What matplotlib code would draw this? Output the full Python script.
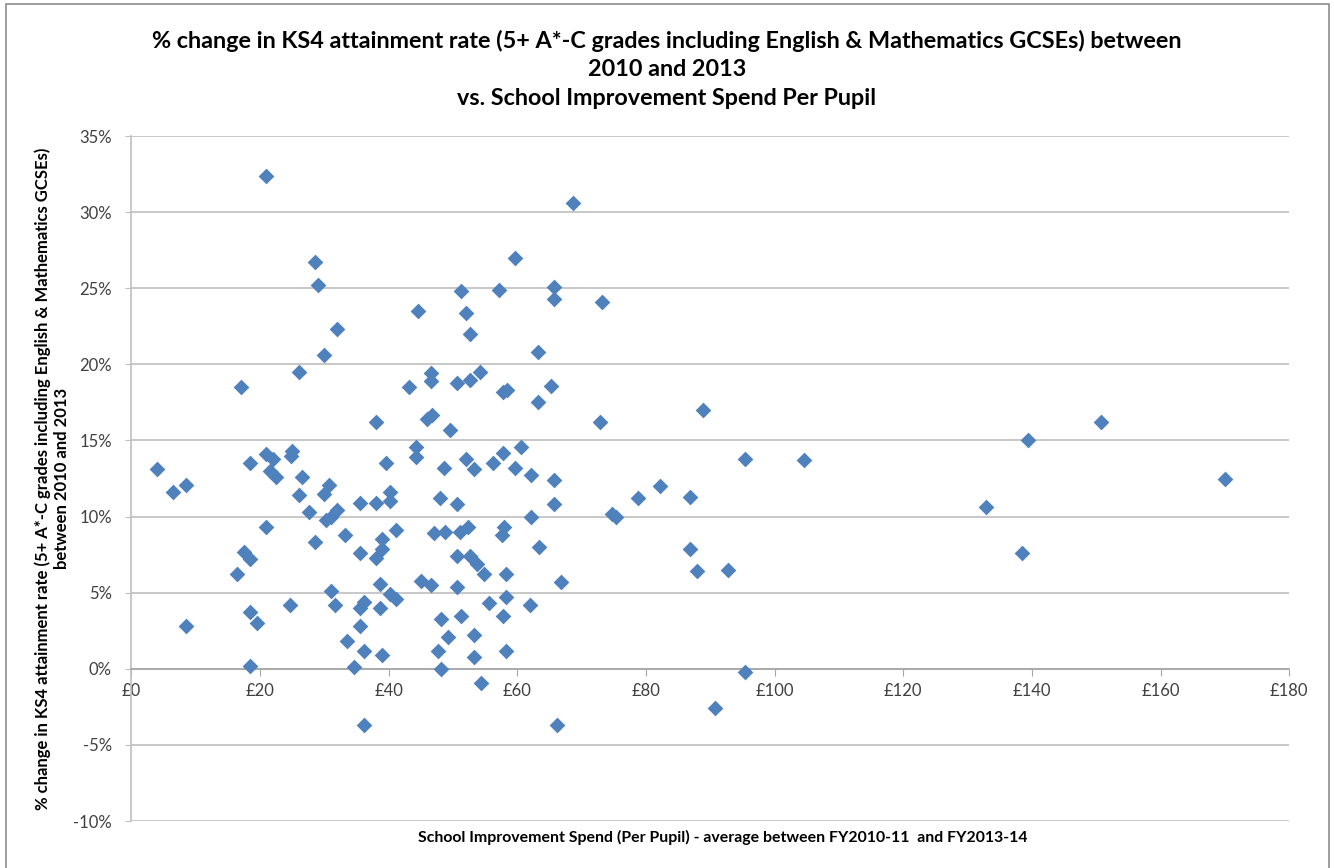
import numpy as np
import matplotlib
matplotlib.use("Agg")
import matplotlib.pyplot as plt
from matplotlib.patches import Rectangle
from matplotlib.ticker import FuncFormatter, MultipleLocator

# spend per pupil (GBP) and % change in attainment
spend = [21.0, 28.5, 29.1, 32.0, 30.0, 26.1, 17.0,
         3.95, 6.5, 8.5, 8.5, 18.5, 21.0, 22.1, 21.5, 22.5, 25.0, 24.9, 26.5, 26.1,
         27.7, 29.9, 30.8, 30.2, 31.0, 32.0, 33.2, 21.0, 28.5, 17.5, 18.4, 16.5,
         18.5, 19.5, 24.7, 18.5, 31.1, 31.7, 33.6, 34.6, 36.1, 35.6, 35.6, 36.1,
         35.6, 36.1,
         68.7, 59.7, 51.3, 57.1, 65.7, 65.7, 44.6, 52.1, 52.7, 63.2, 46.6, 46.6,
         43.1, 50.6, 52.7, 54.2, 57.8, 58.4, 65.2, 63.2, 38.1, 46.0, 46.7, 49.6,
         44.2, 44.2, 39.6, 48.6, 52.1, 53.3, 56.2, 57.8, 60.6, 59.7, 62.2, 65.7,
         65.7, 62.2, 40.2, 40.2, 38.1, 35.6, 48.0, 50.6, 41.1, 47.1, 48.8, 51.1,
         52.3, 57.9, 57.6, 39.0, 39.0, 38.1, 50.6, 52.7, 53.8, 54.8, 58.3, 63.4,
         66.8, 45.0, 46.6, 50.6, 38.6, 40.2, 41.1, 38.6, 39.0, 55.6, 58.3, 57.8,
         61.9, 48.1, 51.3, 49.2, 53.3, 47.7, 53.3, 58.3, 48.1, 54.3, 66.2,
         73.2, 72.9, 88.9, 95.4, 82.2, 78.8, 86.9, 74.8, 75.3, 86.8, 87.9, 92.8,
         95.4, 90.7,
         104.6, 132.9, 138.4, 139.4, 150.8, 170.0]
change = [32.4, 26.7, 25.2, 22.3, 20.6, 19.5, 18.5,
          13.1, 11.6, 12.1, 2.8, 13.5, 14.1, 13.8, 13.0, 12.6, 14.3, 14.0, 12.6, 11.4,
          10.3, 11.5, 12.1, 9.8, 10.0, 10.4, 8.8, 9.3, 8.3, 7.7, 7.2, 6.2,
          3.7, 3.0, 4.2, 0.2, 5.1, 4.2, 1.8, 0.1, 1.2, 4.0, 2.8, 4.4,
          7.6, -3.7,
          30.6, 27.0, 24.8, 24.9, 25.1, 24.3, 23.5, 23.4, 22.0, 20.8, 19.4, 18.9,
          18.5, 18.8, 19.0, 19.5, 18.2, 18.3, 18.6, 17.5, 16.2, 16.4, 16.7, 15.7,
          14.6, 13.9, 13.5, 13.2, 13.8, 13.1, 13.5, 14.2, 14.6, 13.2, 12.7, 12.4,
          10.8, 10.0, 11.6, 11.0, 10.9, 10.9, 11.2, 10.8, 9.1, 8.9, 9.0, 9.0,
          9.3, 9.3, 8.8, 8.5, 7.9, 7.3, 7.4, 7.4, 6.9, 6.2, 6.2, 8.0,
          5.7, 5.8, 5.5, 5.4, 5.6, 4.9, 4.6, 4.0, 0.9, 4.3, 4.7, 3.5,
          4.2, 3.3, 3.5, 2.1, 2.2, 1.2, 0.8, 1.2, 0.0, -0.95, -3.7,
          24.1, 16.2, 17.0, 13.8, 12.0, 11.2, 11.3, 10.2, 10.0, 7.9, 6.4, 6.5,
          -0.2, -2.6,
          13.7, 10.6, 7.6, 15.0, 16.2, 12.5]

title = ("% change in KS4 attainment rate (5+ A*-C grades including English & Mathematics GCSEs) between\n"
         "2010 and 2013\nvs. School Improvement Spend Per Pupil")
ylab = ("% change in KS4 attainment rate (5+ A*-C grades including English & Mathematics GCSEs)\n"
        "between 2010 and 2013")
xlab = "School Improvement Spend (Per Pupil) - average between FY2010-11  and FY2013-14"

plt.rcParams['font.family'] = ['Lato', 'DejaVu Sans']

fig = plt.figure(figsize=(13.34, 8.68), dpi=100)
ax = fig.add_axes([0.0984, 0.0541, 0.8681, 0.7892])

ax.scatter(spend, change, marker='D', s=64, color='#4F81BD', zorder=3, linewidths=0)

ax.set_xlim(0, 180)
ax.set_ylim(-10, 35)
ax.xaxis.set_major_locator(MultipleLocator(20))
ax.yaxis.set_major_locator(MultipleLocator(5))
ax.xaxis.set_major_formatter(FuncFormatter(lambda v, p: "£%d" % v))
ax.yaxis.set_major_formatter(FuncFormatter(lambda v, p: "%d%%" % v))

ax.grid(axis='y', color='#BFBFBF', linewidth=1.2, zorder=0)
for s in ['top', 'right']:
    ax.spines[s].set_visible(False)
ax.spines['bottom'].set_position(('data', 0))
ax.spines['bottom'].set_color('#A6A6A6')
ax.spines['left'].set_color('#BFBFBF')
ax.spines['bottom'].set_linewidth(1.2)
ax.spines['left'].set_linewidth(1.2)
ax.tick_params(axis='x', colors='#A6A6A6', labelcolor='#404040', labelsize=12, length=5, pad=5)
ax.tick_params(axis='y', colors='#BFBFBF', labelcolor='#404040', labelsize=12, length=4, pad=10)

fig.text(0.5, 0.966, title, ha='center', va='top', fontsize=16.8, fontweight='bold',
         linespacing=1.46)
fig.text(0.039, 0.4485, ylab, ha='center', va='center', rotation=90, fontsize=12,
         fontweight='bold', linespacing=1.25)
fig.text(0.542, 0.0346, xlab, ha='center', va='center', fontsize=11.4, fontweight='bold')

fig.patches.append(Rectangle((6 / 1334, -0.01), 1323 / 1334, 1.005, transform=fig.transFigure,
                             fill=False, edgecolor='#8C8C8C', linewidth=1.2))

fig.savefig("out.png", dpi=100)
